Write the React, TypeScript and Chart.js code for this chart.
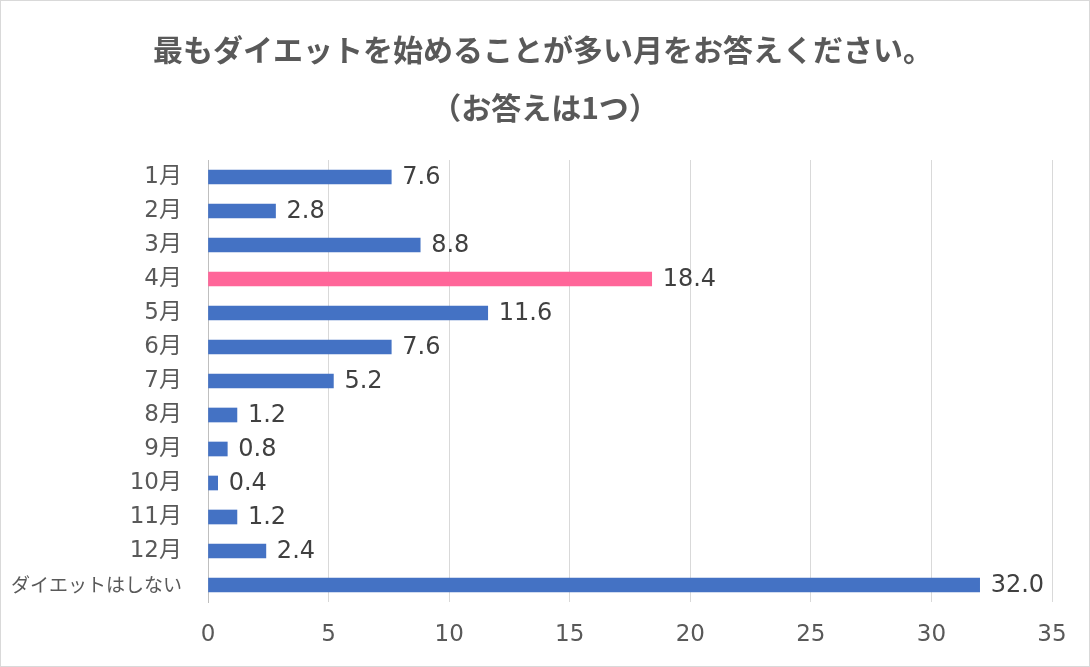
import React, { useEffect, useRef } from "react";
import { Chart, registerables } from "chart.js";

Chart.register(...registerables);

const titleLines = ["最もダイエットを始めることが多い月をお答えください。", "（お答えは1つ）"];
const categories = ["1月", "2月", "3月", "4月", "5月", "6月", "7月", "8月", "9月", "10月", "11月", "12月", "ダイエットはしない"];
const values = [7.6, 2.8, 8.8, 18.4, 11.6, 7.6, 5.2, 1.2, 0.8, 0.4, 1.2, 2.4, 32.0];
const highlightCategory = "4月";
const xTickMax = 35;
const xTickStep = 5;

const BLUE = "#4472C4";
const PINK = "#FF6699";
const TEXT = "#595959";
const LABEL = "#404040";
const FONT = "'DejaVu Sans', 'Noto Sans CJK JP', sans-serif";
const JPFONT = "'Noto Sans CJK JP', sans-serif";

export default function App() {
  const ref = useRef<HTMLCanvasElement | null>(null);
  useEffect(() => {
    document.body.style.margin = "0";
    const canvas = ref.current;
    if (!canvas) return;
    const deco = {
      id: "deco",
      beforeDraw(chart: any) {
        const ctx = chart.ctx;
        ctx.save();
        ctx.fillStyle = "#ffffff";
        ctx.fillRect(0, 0, chart.width, chart.height);
        ctx.strokeStyle = "#D9D9D9";
        ctx.lineWidth = 1;
        ctx.strokeRect(0.5, 0.5, chart.width - 1, chart.height - 1);
        ctx.fillStyle = TEXT;
        ctx.textAlign = "center";
        ctx.textBaseline = "middle";
        ctx.font = "bold 30px " + JPFONT;
        ctx.fillText(titleLines[0], 543, 50);
        ctx.fillText(titleLines[1], 545, 108);
        ctx.restore();
      },
      afterDatasetsDraw(chart: any) {
        const ctx = chart.ctx;
        const meta = chart.getDatasetMeta(0);
        ctx.save();
        ctx.fillStyle = LABEL;
        ctx.font = "24px " + FONT;
        ctx.textAlign = "left";
        ctx.textBaseline = "middle";
        meta.data.forEach((bar: any, i: number) => {
          ctx.fillText(values[i].toFixed(1), bar.x + 11, bar.y + 1);
        });
        ctx.restore();
      },
    };
    const chart = new Chart(canvas, {
      type: "bar",
      data: {
        labels: categories,
        datasets: [
          {
            data: values,
            backgroundColor: categories.map((c) => (c === highlightCategory ? PINK : BLUE)),
            barThickness: 14,
          },
        ],
      },
      options: {
        indexAxis: "y",
        animation: false,
        responsive: false,
        maintainAspectRatio: false,
        layout: { padding: { top: 160, right: 38, bottom: 0, left: 0 } },
        plugins: { legend: { display: false }, title: { display: false }, tooltip: { enabled: false } },
        scales: {
          x: {
            min: 0,
            max: xTickMax,
            ticks: { stepSize: xTickStep, color: TEXT, font: { family: FONT, size: 23 }, padding: 19 },
            grid: { color: (c: any) => (c.tick && c.tick.value === 0 ? "#BFBFBF" : "#D9D9D9"), drawTicks: false },
            border: { display: false },
            afterFit: (s: any) => { s.height = 65; },
          },
          y: {
            ticks: {
              color: TEXT,
              padding: 26,
              font: (c: any) => (c.index === 12 ? { family: JPFONT, size: 19 } : { family: FONT, size: 23 }),
            },
            grid: { display: false, drawTicks: false },
            border: { display: true, color: "#BFBFBF" },
            afterFit: (s: any) => { s.width = 208; },
          },
        },
      },
      plugins: [deco],
    });
    return () => chart.destroy();
  }, []);
  return (
    <div style={{ position: "absolute", left: 0, top: 0, width: 1090, height: 667 }}>
      <canvas ref={ref} width={1090} height={667} style={{ width: 1090, height: 667 }} />
    </div>
  );
}
